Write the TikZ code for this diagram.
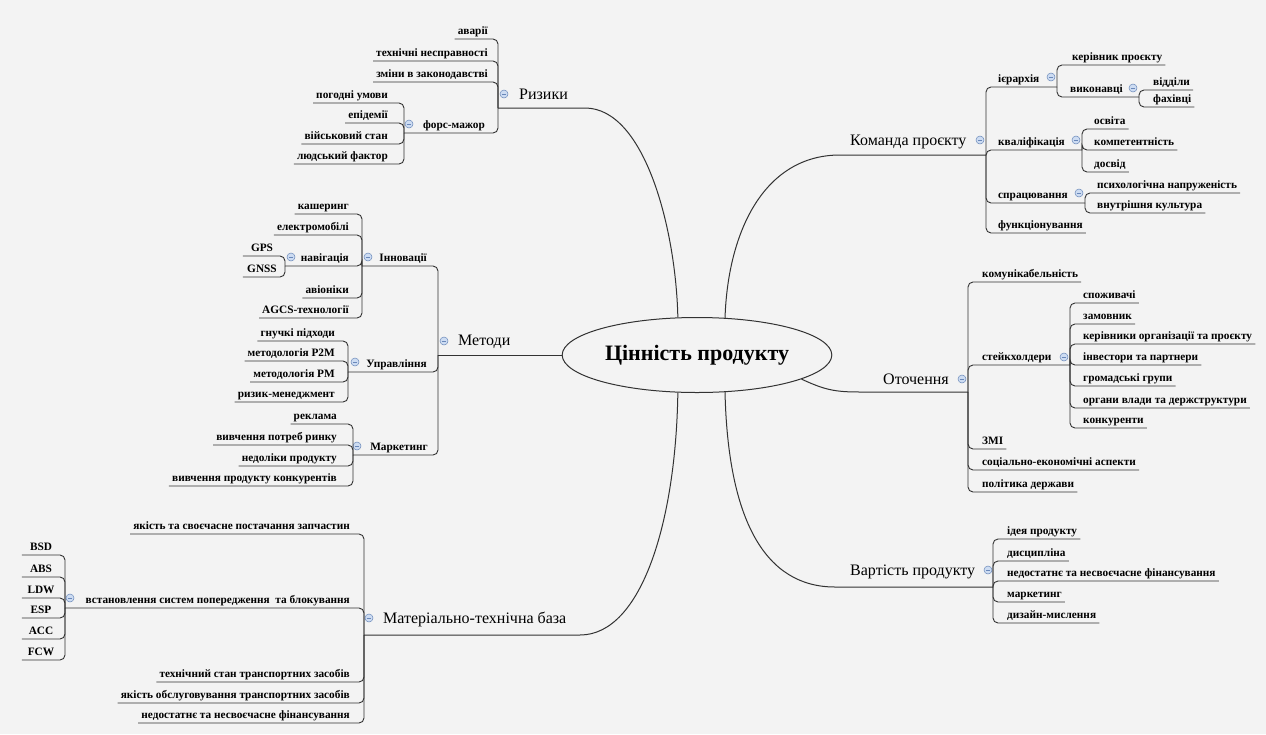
\documentclass[tikz,border=0pt]{standalone}
\usepackage{fontspec}
\setmainfont{Liberation Serif}
\usetikzlibrary{shapes.geometric}
\definecolor{linecol}{RGB}{50,50,50}
\definecolor{foldfill}{RGB}{205,220,242}
\definecolor{foldline}{RGB}{105,135,185}
\definecolor{paper}{RGB}{243,243,243}
\newcommand{\leaffont}{\fontsize{11.3pt}{13pt}\selectfont\bfseries}
\newcommand{\topicfont}{\fontsize{16pt}{18pt}\selectfont}
\tikzset{
  link/.style={draw=linecol, line width=0.9pt, rounded corners=5pt},
  mainlink/.style={draw=linecol, line width=1pt},
  leafL/.style={font=\leaffont, text=black, anchor=south east, inner xsep=3pt, inner ysep=1.5pt, text height=7.5pt, text depth=2.5pt},
  leafR/.style={leafL, anchor=south west},
  leafC/.style={leafL, anchor=south, minimum width=38pt},
  topic/.style={font=\topicfont, anchor=base west, inner sep=0pt},
  foldmark/.style={circle, draw=foldline, fill=foldfill, minimum size=8pt, inner sep=0pt, line width=0.5pt,
    path picture={\draw[foldline, line width=0.8pt] ([xshift=-2.2pt]path picture bounding box.center) -- ([xshift=2.2pt]path picture bounding box.center);}}
}

\begin{document}
\begin{tikzpicture}[x=1pt, y=-1pt]
  \fill[paper] (0,0) rectangle (1266,734);
  \useasboundingbox (0,0) rectangle (1266,734);

  \node[ellipse, draw=linecol, line width=1pt, minimum width=245pt, minimum height=75pt,
    font=\fontsize{22pt}{26pt}\selectfont\bfseries] (centre) at (697,355) {Цінність продукту};

  % Ризики
  \coordinate (rizyky-j) at (498,108);
  \coordinate (rizyky-e) at (585,108);
  \node[topic] (rizyky) at (519,99) {Ризики};
  \node[foldmark] (rizyky-f) at (504,94) {};
  \draw[mainlink] (rizyky-j) -- (rizyky-e) .. controls (645,108) and (676,230) .. (centre.117);
  \node[leafL] (avarii) at (491,39) {аварії};
  \node[leafL] (tekhnichni) at (491,61) {технічні несправності};
  \node[leafL] (zminy) at (491,82) {зміни в законодавстві};
  \node[leafL] (fors) at (488,133) {форс-мажор};
  \node[foldmark] (fors-f) at (409,124) {};
  \coordinate (fors-j) at (404,133);
  \foreach \n in {avarii,tekhnichni,zminy}
    \draw[link] (\n.south west) -| (rizyky-j);
  \draw[link] (fors-j) -| (rizyky-j);
  \node[leafL] (pogodni) at (391,103) {погодні умови};
  \node[leafL] (epidemii) at (391,123) {епідемії};
  \node[leafL] (viiskovyi) at (391,144) {військовий стан};
  \node[leafL] (liudskyi) at (391,164) {людський фактор};
  \foreach \n in {pogodni,epidemii,viiskovyi,liudskyi}
    \draw[link] (\n.south west) -| (fors-j);

  % Методи
  \coordinate (metody-j) at (438,355);
  \node[topic] (metody) at (458,345) {Методи};
  \node[foldmark] (metody-f) at (444,341) {};
  \draw[mainlink] (metody-j) -- (centre.west);
  \node[leafL] (innov) at (430,266) {Інновації};
  \node[foldmark] (innov-f) at (368,257) {};
  \coordinate (innov-j) at (362,266);
  \node[leafL] (upr) at (430,372) {Управління};
  \node[foldmark] (upr-f) at (355,362) {};
  \coordinate (upr-j) at (348,372);
  \node[leafL] (mark) at (431,455) {Маркетинг};
  \node[foldmark] (mark-f) at (357,446) {};
  \coordinate (mark-j) at (353,455);
  \foreach \n in {innov,upr,mark}
    \draw[link] (\n-j) -| (metody-j);
  \node[leafL] (kasherynh) at (352,214) {кашеринг};
  \node[leafL] (elektro) at (352,235) {електромобілі};
  \node[leafL] (nav) at (352,266) {навігація};
  \node[foldmark] (nav-f) at (291,257) {};
  \coordinate (nav-j) at (285,266);
  \node[leafL] (avioniky) at (352,298) {авіоніки};
  \node[leafL] (agcs) at (352,318) {AGCS-технології};
  \foreach \n in {kasherynh,elektro,avioniky,agcs}
    \draw[link] (\n.south west) -| (innov-j);
  \draw[link] (nav-j) -| (innov-j);
  \node[leafC] (gps) at (262,256) {GPS};
  \node[leafC] (gnss) at (262,277) {GNSS};
  \foreach \n in {gps,gnss}
    \draw[link] (\n.south west) -| (nav-j);
  \node[leafL] (hnuchki) at (338,341) {гнучкі підходи};
  \node[leafL] (p2m) at (338,361) {методологія P2M};
  \node[leafL] (pm) at (338,382) {методологія PM};
  \node[leafL] (ryzyk) at (338,402) {ризик-менеджмент};
  \foreach \n in {hnuchki,p2m,pm,ryzyk}
    \draw[link] (\n.south west) -| (upr-j);
  \node[leafL] (reklama) at (340,424) {реклама};
  \node[leafL] (potreb) at (340,445) {вивчення потреб ринку};
  \node[leafL] (nedoliky) at (340,466) {недоліки продукту};
  \node[leafL] (konkur) at (340,486) {вивчення продукту конкурентів};
  \foreach \n in {reklama,potreb,nedoliky,konkur}
    \draw[link] (\n.south west) -| (mark-j);

  % Матеріально-технічна база
  \coordinate (mat-j) at (364,635);
  \coordinate (mat-e) at (580,635);
  \node[topic] (mat) at (383,623) {Матеріально-технічна база};
  \node[foldmark] (mat-f) at (369,618) {};
  \draw[mainlink] (mat-j) -- (mat-e) .. controls (642,635) and (676,520) .. (centre.-117);
  \node[leafL] (zapch) at (353,534) {якість та своєчасне постачання запчастин};
  \node[leafL] (vst) at (353,608) {встановлення систем попередження \ та блокування};
  \node[foldmark] (vst-f) at (70,598) {};
  \coordinate (vst-j) at (65,608);
  \node[leafL] (stan) at (353,682) {технічний стан транспортних засобів};
  \node[leafL] (obsluh) at (353,703) {якість обслуговування транспортних засобів};
  \node[leafL] (finans1) at (353,723) {недостатнє та несвоєчасне фінансування};
  \foreach \n in {zapch,stan,obsluh,finans1}
    \draw[link] (\n.south west) -| (mat-j);
  \draw[link] (vst-j) -| (mat-j);
  \node[leafC] (bsd) at (41,555) {BSD};
  \node[leafC] (abs) at (41,577) {ABS};
  \node[leafC] (ldw) at (41,598) {LDW};
  \node[leafC] (esp) at (41,618) {ESP};
  \node[leafC] (acc) at (41,639) {ACC};
  \node[leafC] (fcw) at (41,660) {FCW};
  \foreach \n in {bsd,abs,ldw,esp,acc,fcw}
    \draw[link] (\n.south west) -| (vst-j);

  % Команда проєкту
  \coordinate (komanda-j) at (986,155);
  \coordinate (komanda-e) at (840,155);
  \node[topic] (komanda) at (850,145) {Команда проєкту};
  \node[foldmark] (komanda-f) at (980,140) {};
  \draw[mainlink] (centre.53) .. controls (728,230) and (765,155) .. (komanda-e) -- (komanda-j);
  \node[leafR] (ier) at (995,87) {ієрархія};
  \node[foldmark] (ier-f) at (1051,77) {};
  \coordinate (ier-j) at (1057,87);
  \node[leafR] (kval) at (995,150) {кваліфікація};
  \node[foldmark] (kval-f) at (1076,140) {};
  \coordinate (kval-j) at (1082,150);
  \node[leafR] (sprats) at (995,203) {спрацювання};
  \node[foldmark] (sprats-f) at (1079,193) {};
  \coordinate (sprats-j) at (1085,203);
  \node[leafR] (funkts) at (995,233) {функціонування};
  \foreach \n in {ier,kval,sprats}
    \draw[link] (\n-j) -| (komanda-j);
  \draw[link] (funkts.south east) -| (komanda-j);
  \node[leafR] (kerivnyk) at (1069,65) {керівник проєкту};
  \node[leafR] (vyk) at (1067,97) {виконавці};
  \node[foldmark] (vyk-f) at (1133,88) {};
  \coordinate (vyk-j) at (1139,97);
  \draw[link] (kerivnyk.south east) -| (ier-j);
  \draw[link] (vyk-j) -| (ier-j);
  \node[leafR] (viddily) at (1150,90) {відділи};
  \node[leafR] (fakhivtsi) at (1150,107) {фахівці};
  \foreach \n in {viddily,fakhivtsi}
    \draw[link] (\n.south east) -| (vyk-j);
  \node[leafR] (osvita) at (1091,129) {освіта};
  \node[leafR] (kompet) at (1091,150) {компетентність};
  \node[leafR] (dosvid) at (1091,172) {досвід};
  \foreach \n in {osvita,kompet,dosvid}
    \draw[link] (\n.south east) -| (kval-j);
  \node[leafR] (psykhol) at (1094,193) {психологічна напруженість};
  \node[leafR] (kultura) at (1094,213) {внутрішня культура};
  \foreach \n in {psykhol,kultura}
    \draw[link] (\n.south east) -| (sprats-j);

  % Оточення
  \coordinate (otoch-j) at (968,392);
  \coordinate (otoch-e) at (860,392);
  \node[topic] (otoch) at (883,384) {Оточення};
  \node[foldmark] (otoch-f) at (962,379) {};
  \draw[mainlink] (centre.-13) .. controls (825,390) and (835,392) .. (otoch-e) -- (otoch-j);
  \node[leafR] (komunik) at (979,282) {комунікабельність};
  \node[leafR] (steik) at (979,365) {стейкхолдери};
  \node[foldmark] (steik-f) at (1064,357) {};
  \coordinate (steik-j) at (1070,365);
  \node[leafR] (zmi) at (979,449) {ЗМІ};
  \node[leafR] (sotsial) at (979,470) {соціально-економічні аспекти};
  \node[leafR] (polityka) at (979,492) {політика держави};
  \foreach \n in {komunik,zmi,sotsial,polityka}
    \draw[link] (\n.south east) -| (otoch-j);
  \draw[link] (steik-j) -| (otoch-j);
  \node[leafR] (spozh) at (1080,303) {споживачі};
  \node[leafR] (zamov) at (1080,324) {замовник};
  \node[leafR] (kerivnyky) at (1080,344) {керівники організації та проєкту};
  \node[leafR] (invest) at (1080,365) {інвестори та партнери};
  \node[leafR] (hromad) at (1080,386) {громадські групи};
  \node[leafR] (orhany) at (1080,408) {органи влади та держструктури};
  \node[leafR] (konkurenty) at (1080,428) {конкуренти};
  \foreach \n in {spozh,zamov,kerivnyky,invest,hromad,orhany,konkurenty}
    \draw[link] (\n.south east) -| (steik-j);

  % Вартість продукту
  \coordinate (vart-j) at (993,587);
  \coordinate (vart-e) at (835,587);
  \node[topic] (vart) at (850,575) {Вартість продукту};
  \node[foldmark] (vart-f) at (988,570) {};
  \draw[mainlink] (centre.-53) .. controls (728,520) and (765,587) .. (vart-e) -- (vart-j);
  \node[leafR] (ideia) at (1004,539) {ідея продукту};
  \node[leafR] (dyst) at (1004,561) {дисципліна};
  \node[leafR] (finans2) at (1004,581) {недостатнє та несвоєчасне фінансування};
  \node[leafR] (market2) at (1004,602) {маркетинг};
  \node[leafR] (dyzain) at (1004,623) {дизайн-мислення};
  \foreach \n in {ideia,dyst,finans2,market2,dyzain}
    \draw[link] (\n.south east) -| (vart-j);
\end{tikzpicture}
\end{document}
